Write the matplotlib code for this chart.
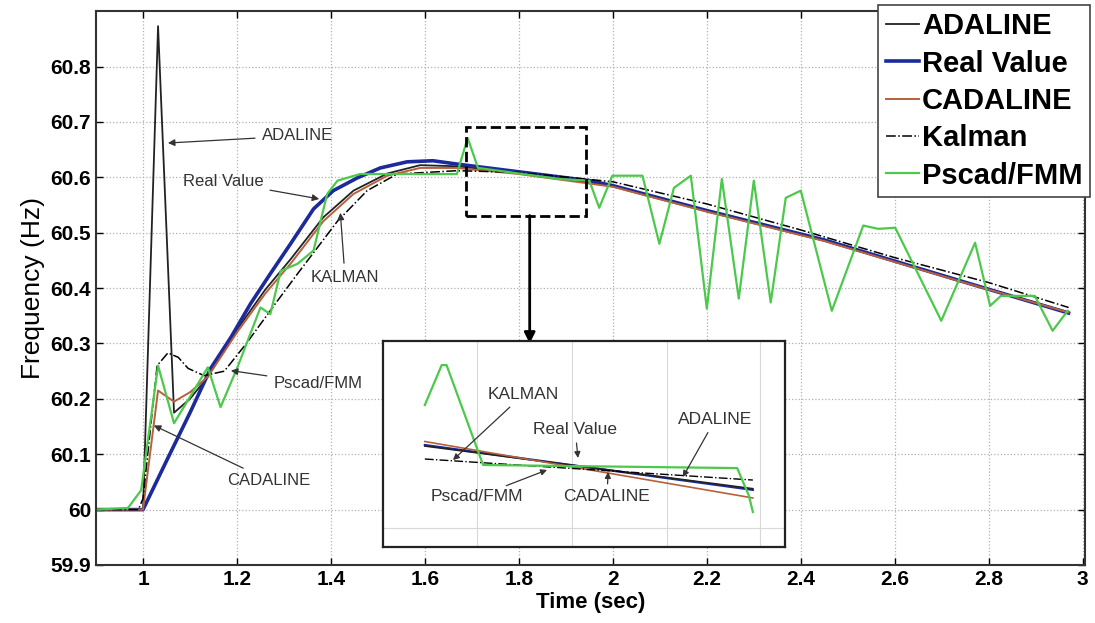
import numpy as np
import matplotlib.pyplot as plt
from matplotlib.patches import Rectangle

plt.rcParams['font.family'] = ['Liberation Sans', 'DejaVu Sans']

# ---- data ----
t_adaline = [0.9, 1.0, 1.032, 1.066, 1.1, 1.138, 1.2, 1.26, 1.314, 1.384, 1.448, 1.52,
             1.59, 1.668, 1.8, 2.0, 2.2, 2.45, 2.74, 2.97]
f_adaline = [60.0, 60.0, 60.873, 60.175, 60.2, 60.24, 60.325, 60.397, 60.452, 60.528,
             60.576, 60.607, 60.622, 60.62, 60.608, 60.585, 60.54, 60.487, 60.413, 60.356]

t_real = [0.9, 1.0, 1.05, 1.1, 1.144, 1.187, 1.229, 1.271, 1.314, 1.363, 1.405, 1.456,
          1.505, 1.562, 1.617, 1.668, 1.8, 1.95, 2.0, 2.2, 2.45, 2.74, 2.97]
f_real = [60.0, 60.0, 60.088, 60.175, 60.255, 60.311, 60.372, 60.426, 60.48, 60.543,
          60.576, 60.599, 60.617, 60.628, 60.63, 60.624, 60.61, 60.594, 60.585, 60.54,
          60.487, 60.413, 60.355]

t_cadaline = [0.9, 1.0, 1.032, 1.066, 1.1, 1.138, 1.2, 1.26, 1.314, 1.384, 1.448, 1.52,
              1.59, 1.668, 1.8, 2.0, 2.2, 2.45, 2.74, 2.97]
f_cadaline = [60.0, 60.0, 60.215, 60.195, 60.212, 60.24, 60.32, 60.39, 60.444, 60.521,
              60.57, 60.603, 60.617, 60.617, 60.606, 60.583, 60.538, 60.485, 60.412, 60.356]

t_kalman = [0.9, 0.99, 1.0, 1.03, 1.053, 1.075, 1.096, 1.13, 1.173, 1.22, 1.28, 1.329,
            1.414, 1.477, 1.541, 1.668, 1.8, 2.0, 2.2, 2.4, 2.6, 2.8, 2.97]
f_kalman = [60.0, 60.0, 60.02, 60.26, 60.283, 60.275, 60.255, 60.242, 60.25, 60.3, 60.37,
            60.426, 60.521, 60.576, 60.606, 60.612, 60.609, 60.592, 60.552, 60.505,
            60.455, 60.41, 60.365]

t_pscad = [0.9, 0.968, 0.996, 1.032, 1.066, 1.138, 1.165, 1.201, 1.25, 1.271, 1.293,
           1.329, 1.363, 1.378, 1.392, 1.414, 1.462, 1.668, 1.691, 1.713, 1.887, 1.95,
           1.971, 1.999, 2.063, 2.099, 2.13, 2.166, 2.2, 2.232, 2.268, 2.3, 2.336, 2.368,
           2.4, 2.466, 2.533, 2.565, 2.601, 2.699, 2.771, 2.803, 2.826, 2.898, 2.936, 2.968]
f_pscad = [60.0, 60.003, 60.035, 60.26, 60.156, 60.257, 60.185, 60.257, 60.365, 60.353,
           60.431, 60.444, 60.468, 60.521, 60.57, 60.594, 60.606, 60.606, 60.671, 60.617,
           60.597, 60.594, 60.545, 60.603, 60.603, 60.48, 60.581, 60.603, 60.363, 60.597,
           60.381, 60.594, 60.374, 60.563, 60.576, 60.359, 60.513, 60.507, 60.509, 60.341,
           60.482, 60.368, 60.386, 60.386, 60.323, 60.359]

# zoomed inset (relative units of the inset box)
inset_t = [0.104, 0.92]
inset_real = [0.495, 0.277]
inset_adaline = [0.49, 0.283]
inset_cadaline = [0.512, 0.238]
inset_kalman = [0.427, 0.325]
inset_pscad_t = [0.104, 0.146, 0.158, 0.249, 0.881, 0.91, 0.92]
inset_pscad = [0.689, 0.883, 0.883, 0.398, 0.383, 0.25, 0.17]

yticks = [59.9, 60.0, 60.1, 60.2, 60.3, 60.4, 60.5, 60.6, 60.7, 60.8]
ytick_labels = ['59.9', '60', '60.1', '60.2', '60.3', '60.4', '60.5', '60.6', '60.7', '60.8']
xticks = [1, 1.2, 1.4, 1.6, 1.8, 2, 2.2, 2.4, 2.6, 2.8, 3]
xtick_labels = ['1', '1.2', '1.4', '1.6', '1.8', '2', '2.2', '2.4', '2.6', '2.8', '3']

c_real = '#1c2a9c'
c_cad = '#b8603c'
c_green = '#4cc94c'
c_ada = '#222222'

fig = plt.figure(figsize=(10.95, 6.23), dpi=100)
ax = fig.add_axes([0.0877, 0.0931, 0.9032, 0.8889])

ax.plot(t_adaline, f_adaline, color=c_ada, lw=1.3, label='ADALINE')
ax.plot(t_real, f_real, color=c_real, lw=2.6, label='Real Value')
ax.plot(t_cadaline, f_cadaline, color=c_cad, lw=1.4, label='CADALINE')
ax.plot(t_kalman, f_kalman, color='black', lw=1.1, ls='-.', label='Kalman')
ax.plot(t_pscad, f_pscad, color=c_green, lw=1.6, label='Pscad/FMM')

ax.set_xlim(0.9, 3.005)
ax.set_ylim(59.9, 60.9)
ax.set_xticks(xticks)
ax.set_xticklabels(xtick_labels)
ax.set_yticks(yticks)
ax.set_yticklabels(ytick_labels)
ax.tick_params(direction='in', top=True, right=True, length=5, width=1, labelsize=15)
for lab in ax.get_xticklabels() + ax.get_yticklabels():
    lab.set_fontweight('bold')
ax.grid(True, ls=':', color='#b0b0b0', lw=0.9)
for s in ax.spines.values():
    s.set_linewidth(1.5)
    s.set_color('#333333')

ax.set_xlabel('Time (sec)', fontsize=16, fontweight='bold', labelpad=2)
ax.set_ylabel('Frequency (Hz)', fontsize=19, labelpad=4)

leg = ax.legend(loc='upper right', bbox_to_anchor=(0.9954, 0.992),
                bbox_transform=fig.transFigure, borderaxespad=0, fancybox=False,
                prop={'size': 21, 'weight': 'bold'}, handlelength=1.15,
                handletextpad=0.1, labelspacing=0.32, borderpad=0.25, framealpha=1)
leg.get_frame().set_edgecolor('#444444')
leg.get_frame().set_linewidth(1.2)

arrow = dict(arrowstyle='-|>', color='#333333', lw=0.9, mutation_scale=10,
             shrinkA=3, shrinkB=0)
ann_kw = dict(fontsize=12, color='#333333', ha='center', va='center')
ax.annotate('ADALINE', xy=(1.053, 60.662), xytext=(1.329, 60.675), arrowprops=arrow, **ann_kw)
ax.annotate('Real Value', xy=(1.375, 60.561), xytext=(1.17, 60.592), arrowprops=arrow, **ann_kw)
ax.annotate('KALMAN', xy=(1.42, 60.536), xytext=(1.43, 60.419), arrowprops=arrow, **ann_kw)
ax.annotate('Pscad/FMM', xy=(1.187, 60.251), xytext=(1.373, 60.228), arrowprops=arrow, **ann_kw)
ax.annotate('CADALINE', xy=(1.023, 60.152), xytext=(1.267, 60.053), arrowprops=arrow, **ann_kw)

# zoom window and arrow to the inset
ax.add_patch(Rectangle((1.687, 60.531), 0.255, 0.16, fill=False, ls='--', lw=2,
                       ec='black', zorder=5))
ax.annotate('', xy=(1.823, 60.300), xytext=(1.823, 60.531),
            arrowprops=dict(arrowstyle='-|>', color='black', lw=2, mutation_scale=16,
                            shrinkA=0, shrinkB=0), zorder=6)

# inset
ins = fig.add_axes([0.3498, 0.122, 0.3671, 0.3307])
ins.plot(inset_t, inset_real, color=c_real, lw=1.6)
ins.plot(inset_t, inset_adaline, color=c_ada, lw=1.2)
ins.plot(inset_t, inset_cadaline, color=c_cad, lw=1.2)
ins.plot(inset_t, inset_kalman, color='black', lw=1.0, ls='-.')
ins.plot(inset_pscad_t, inset_pscad, color=c_green, lw=1.6)
ins.set_xlim(0, 1)
ins.set_ylim(0, 1)
ins.set_xticks([0.234, 0.47, 0.706, 0.938])
ins.set_yticks([0.092])
ins.tick_params(length=0, labelbottom=False, labelleft=False)
ins.grid(True, color='#d8d8d8', lw=0.8)
for s in ins.spines.values():
    s.set_linewidth(1.6)
    s.set_color('#222222')

iarrow = dict(arrowstyle='-|>', color='#333333', lw=0.9, mutation_scale=9,
              shrinkA=2, shrinkB=0)
ins_kw = dict(fontsize=12.5, color='#333333', ha='center', va='center')
ins.annotate('KALMAN', xy=(0.174, 0.422), xytext=(0.348, 0.738), arrowprops=iarrow, **ins_kw)
ins.annotate('Real Value', xy=(0.485, 0.432), xytext=(0.478, 0.568), arrowprops=iarrow, **ins_kw)
ins.annotate('ADALINE', xy=(0.746, 0.34), xytext=(0.826, 0.617), arrowprops=iarrow, **ins_kw)
ins.annotate('Pscad/FMM', xy=(0.408, 0.374), xytext=(0.234, 0.243), arrowprops=iarrow, **ins_kw)
ins.annotate('CADALINE', xy=(0.56, 0.364), xytext=(0.557, 0.243), arrowprops=iarrow, **ins_kw)

fig.savefig('out.png', dpi=100)
